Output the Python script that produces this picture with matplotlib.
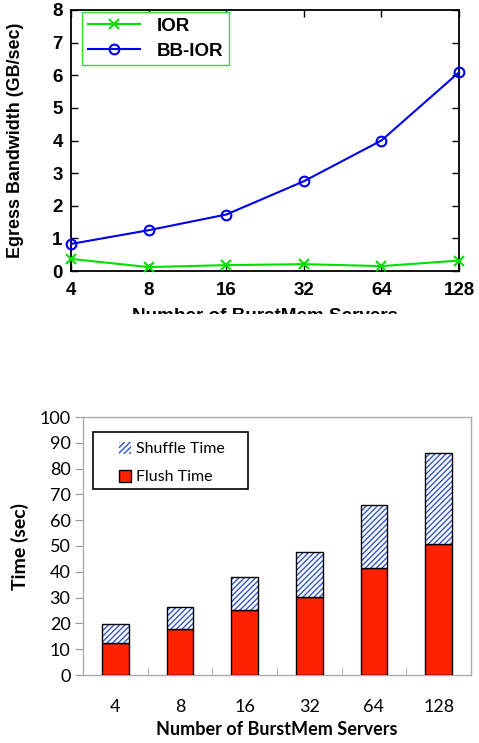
import matplotlib
matplotlib.use("Agg")
import matplotlib.pyplot as plt
import numpy as np
from matplotlib.patches import Rectangle
from matplotlib.font_manager import FontProperties

servers = ["4", "8", "16", "32", "64", "128"]
ior = [0.37, 0.12, 0.18, 0.21, 0.15, 0.32]
bb_ior = [0.83, 1.25, 1.73, 2.75, 4.0, 6.09]
flush_time = [12.3, 17.7, 25.2, 30.3, 41.4, 50.8]
shuffle_time = [7.4, 8.6, 12.6, 17.3, 24.3, 35.2]

W, H = 479, 743
fig = plt.figure(figsize=(W/100, H/100), dpi=100)

# ---------- top chart ----------
bold = dict(family="Liberation Sans", weight="bold")
ax1 = fig.add_axes([71/W, 1-271/H, (459-71)/W, (271-10)/H])
x = np.arange(len(servers))
ax1.plot(x, ior, color="#00e000", marker="x", ms=7, mew=1.5, lw=1.5, label="IOR", clip_on=False, zorder=3)
ax1.plot(x, bb_ior, color="#0000ee", marker="o", ms=7, mfc="none", mew=1.5, lw=1.5, label="BB-IOR", clip_on=False, zorder=3)
ax1.set_xlim(0, 5)
ax1.set_ylim(0, 8)
ax1.set_xticks(x)
ax1.set_xticklabels(servers)
ax1.set_yticks(range(0, 9))
ax1.tick_params(direction="in", top=True, right=True, length=5, width=1)
ax1.tick_params(axis="x", pad=8)
ax1.tick_params(axis="y", pad=6)
for lab in ax1.get_xticklabels() + ax1.get_yticklabels():
    lab.set_fontproperties(FontProperties(family="Liberation Sans", weight="bold", size=13.5))
for s in ax1.spines.values():
    s.set_linewidth(1.3)
ax1.set_ylabel("Egress Bandwidth (GB/sec)", fontsize=12.9, **bold)
ax1.yaxis.set_label_coords(-(71-24)/388, 0.5)
ax1.set_xlabel("Number of BurstMem Servers", fontsize=13.6, **bold)
ax1.xaxis.set_label_coords(0.5, -(308-271)/261)
leg1 = ax1.legend(loc="upper left", bbox_to_anchor=(11/388, 1-2/261), borderaxespad=0,
                  prop=dict(family="Liberation Sans", weight="bold", size=13.5),
                  handlelength=2.8, handletextpad=0.9, borderpad=0.3, labelspacing=0.42,
                  fancybox=False, framealpha=1)
leg1.get_frame().set_edgecolor("#33dd33")
leg1.get_frame().set_linewidth(1.0)

# cover the cut-off part of the top x label
fig.add_artist(Rectangle((0, 0), 1, 1-314/H, transform=fig.transFigure, facecolor="white",
                         edgecolor="none", zorder=10))

# ---------- bottom chart ----------
ax2 = fig.add_axes([83/W, 1-675/H, (471-83)/W, (675-417)/H], zorder=20)
bw = 0.41
ax2.bar(x, flush_time, width=bw, color="#ff2200", edgecolor="black", lw=1.0, label="Flush Time", zorder=3)
ax2.bar(x, shuffle_time, width=bw, bottom=flush_time, color="white", edgecolor="#3355cc",
        hatch="//////", lw=0, label="Shuffle Time", zorder=3)
ax2.bar(x, shuffle_time, width=bw, bottom=flush_time, color="none", edgecolor="black", lw=1.0, zorder=4)
ax2.set_xlim(-0.5, 5.5)
ax2.set_ylim(0, 100)
ax2.set_yticks(range(0, 101, 10))
ax2.set_xticks(x)
ax2.set_xticklabels(servers)
ax2.set_xticks(np.arange(0.5, 5.5, 1), minor=True)
ax2.tick_params(axis="x", which="major", length=0, pad=17)
ax2.tick_params(axis="x", which="minor", length=5, color="#999999", direction="in")
ax2.tick_params(axis="y", length=6, color="#999999", direction="out", pad=3)
for lab in ax2.get_xticklabels() + ax2.get_yticklabels():
    lab.set_fontproperties(FontProperties(family="Lato", size=13))
for s in ax2.spines.values():
    s.set_color("#aaaaaa")
    s.set_linewidth(1.0)
ax2.set_ylabel("Time (sec)", family="Lato", weight="bold", fontsize=14)
ax2.yaxis.set_label_coords(-(83-29)/388, 0.5)
ax2.set_xlabel("Number of BurstMem Servers", family="Lato", weight="bold", fontsize=13)
ax2.xaxis.set_label_coords(0.5, -(721-675)/258)
ax2.add_patch(Rectangle(((93-83)/388, (675-489)/258), 155/388, 57/258, transform=ax2.transAxes,
                        facecolor="white", edgecolor="black", lw=1.2, zorder=5))
h, l = ax2.get_legend_handles_labels()
leg2 = ax2.legend([h[1], h[0]], [l[1], l[0]], loc="upper left",
                  bbox_to_anchor=((119-83)/388, (675-442)/258), borderaxespad=0, borderpad=0,
                  prop=dict(family="Lato", size=11.5), handlelength=0.75, handleheight=0.75,
                  handletextpad=0.3, labelspacing=0.85, frameon=False)
leg2.set_zorder(6)

fig.savefig("out.png", dpi=100, facecolor="white")
